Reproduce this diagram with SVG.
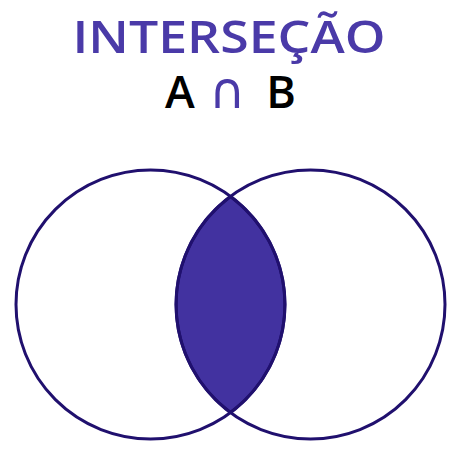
<svg xmlns="http://www.w3.org/2000/svg" width="464" height="452" viewBox="0 0 464 452">
<style>
.t{font-family:"Open Sans","Lato","Liberation Sans",sans-serif;font-weight:600;font-size:45px;text-anchor:middle}
.c{fill:none;stroke:#20106e;stroke-width:3}
</style>
<rect width="464" height="452" fill="#fff"/>
<g id="title">
<text class="t" x="229" y="53" fill="#4a3aa8" textLength="313" lengthAdjust="spacingAndGlyphs">INTERSEÇÃO</text>
<text class="t" x="180" y="108" fill="#000">A</text>
<text class="t" x="227" y="108" fill="#4a3aa8" style="font-family:'DejaVu Sans',sans-serif;font-weight:normal;font-size:50px">∩</text>
<text class="t" x="281" y="108" fill="#000">B</text>
</g>
<g id="intersection">
<path d="M230.5,196.5 A134.5,134.5 0 0 1 230.5,412.5 A134.5,134.5 0 0 1 230.5,196.5 Z" fill="#4232a0" stroke="#20106e" stroke-width="3"/>
</g>
<g id="setA"><circle class="c" cx="150.5" cy="304.5" r="134.5"/></g>
<g id="setB"><circle class="c" cx="310.5" cy="304.5" r="134.5"/></g>
</svg>
